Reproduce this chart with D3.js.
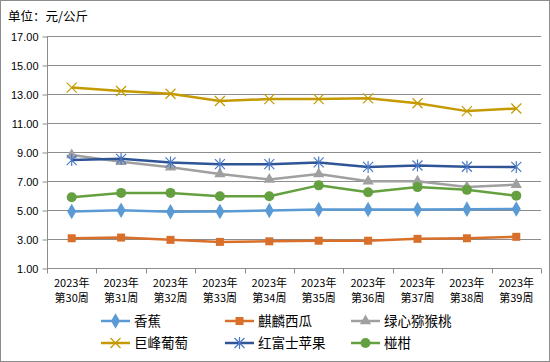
<!DOCTYPE html>
<html>
<head>
<meta charset="utf-8">
<script src="https://cdn.jsdelivr.net/npm/d3@7"></script>
<style>
  body { margin: 0; background: #fff; }
  svg { display: block; font-family: "Noto Sans CJK SC", "DejaVu Sans", sans-serif; }
</style>
</head>
<body>
<svg id="chart" width="550" height="362"></svg>
<script>
// weekly prices, yuan per kg
var weeks = ["第30周", "第31周", "第32周", "第33周", "第34周",
  "第35周", "第36周", "第37周", "第38周", "第39周"];
var yearLabel = "2023年";
var yTicks = [1, 3, 5, 7, 9, 11, 13, 15, 17];

var banana = [4.90, 4.98, 4.88, 4.90, 4.96, 5.03, 5.03, 5.04, 5.06, 5.07];
var watermelon = [3.05, 3.10, 2.94, 2.80, 2.84, 2.88, 2.88, 3.01, 3.05, 3.15];
var kiwi = [8.80, 8.32, 7.95, 7.48, 7.10, 7.48, 6.99, 6.99, 6.58, 6.75];
var grape = [13.44, 13.21, 13.02, 12.52, 12.65, 12.65, 12.70, 12.36, 11.82, 12.00];
var apple = [8.44, 8.53, 8.28, 8.16, 8.16, 8.28, 7.97, 8.07, 7.98, 7.97];
var citrus = [5.88, 6.18, 6.18, 5.95, 5.95, 6.70, 6.23, 6.58, 6.39, 5.99];

var seriesNames = ["香蕉", "麒麟西瓜", "绿心猕猴桃", "巨峰葡萄", "红富士苹果", "椪柑"];
var seriesValues = [banana, watermelon, kiwi, grape, apple, citrus];
var seriesColors = ["#5b9bd5", "#d8702b", "#a0a0a0", "#c49a00", "#2f5597", "#64a03f"];
var seriesMarkers = ["diamond", "square", "triangle", "cross", "asterisk", "circle"];

var svg = d3.select("#chart"),
  margin = { left: 47, right: 9, top: 36, bottom: 94 },
  width = 550 - margin.left - margin.right,
  height = 362 - margin.top - margin.bottom,
  gridColor = "#8c8c8c";

// outer frame
svg.append("rect")
  .attr("x", 0.5).attr("y", 0.5)
  .attr("width", 549).attr("height", 361)
  .attr("fill", "none").attr("stroke", "#8c8c8c");

svg.append("text")
  .attr("x", 8).attr("y", 21)
  .attr("font-size", 12.5)
  .attr("fill", "#000")
  .text("单位：元/公斤");

var g = svg.append("g")
  .attr("transform", "translate(" + margin.left + "," + margin.top + ")");

var x = d3.scaleBand().domain(weeks).range([0, width]);
var y = d3.scaleLinear().domain([1, 17]).range([height, 0]);

// grid lines
g.selectAll(".grid")
  .data(yTicks.slice(1))
  .enter()
  .append("line")
  .attr("class", "grid")
  .attr("x1", 0).attr("x2", width)
  .attr("y1", function (d) { return Math.round(y(d)) + 0.5; })
  .attr("y2", function (d) { return Math.round(y(d)) + 0.5; })
  .attr("stroke", gridColor);

// y axis
var yAxis = g.append("g")
  .attr("transform", "translate(0.5,0.5)")
  .call(d3.axisLeft(y).tickValues(yTicks).tickSize(5).tickPadding(4)
    .tickFormat(d3.format(".2f")));
yAxis.selectAll("line, path").attr("stroke", gridColor);
yAxis.select(".domain").attr("d", "M0," + y(17) + "V" + y(1));
yAxis.selectAll("text").attr("font-size", 11).attr("fill", "#000")
  .attr("font-family", "'Liberation Sans', sans-serif");

// x axis, ticks on band boundaries
var xAxis = g.append("g")
  .attr("transform", "translate(0," + (Math.round(height) + 0.5) + ")");
xAxis.append("line")
  .attr("x1", 0).attr("x2", width)
  .attr("stroke", gridColor);
xAxis.selectAll(".tick")
  .data(d3.range(weeks.length + 1))
  .enter()
  .append("line")
  .attr("x1", function (i) { return Math.round(i * x.bandwidth()) + 0.5; })
  .attr("x2", function (i) { return Math.round(i * x.bandwidth()) + 0.5; })
  .attr("y1", 0).attr("y2", 5)
  .attr("stroke", gridColor);
var xLabels = xAxis.selectAll(".xlabel")
  .data(weeks)
  .enter()
  .append("text")
  .attr("text-anchor", "middle")
  .attr("font-size", 11)
  .attr("fill", "#000")
  .attr("transform", function (d) {
    return "translate(" + (x(d) + x.bandwidth() / 2) + ",0)";
  });
xLabels.append("tspan").attr("x", 0).attr("y", 18).text(yearLabel);
xLabels.append("tspan").attr("x", 0).attr("y", 33).text(function (d) { return d; });

// marker drawing
function drawMarker(sel, type, color) {
  switch (type) {
    case "diamond":
      sel.append("path").attr("d", d3.symbol(d3.symbolDiamond, 70)())
        .attr("fill", color);
      break;
    case "square":
      sel.append("rect").attr("x", -4).attr("y", -4)
        .attr("width", 8).attr("height", 8).attr("fill", color);
      break;
    case "triangle":
      sel.append("path").attr("d", d3.symbol(d3.symbolTriangle, 55)())
        .attr("fill", color);
      break;
    case "circle":
      sel.append("circle").attr("r", 5).attr("fill", color);
      break;
    case "cross":
      sel.append("path").attr("d", "M-5,-5L5,5M-5,5L5,-5")
        .attr("stroke", color).attr("stroke-width", 1.2).attr("fill", "none");
      break;
    case "asterisk":
      sel.append("path").attr("d", "M-5,-5L5,5M-5,5L5,-5M0,-6V6")
        .attr("stroke", "#4a78c8").attr("stroke-width", 1.2).attr("fill", "none");
      break;
  }
}

var line = d3.line()
  .x(function (d, i) { return x(weeks[i]) + x.bandwidth() / 2; })
  .y(function (d) { return y(d); });

seriesValues.forEach(function (vals, k) {
  var s = g.append("g");
  s.append("path")
    .attr("d", line(vals))
    .attr("fill", "none")
    .attr("stroke", seriesColors[k])
    .attr("stroke-width", 2.5)
    .attr("stroke-linejoin", "round");
  s.selectAll(".pt")
    .data(vals)
    .enter()
    .append("g")
    .attr("transform", function (d, i) {
      return "translate(" + (x(weeks[i]) + x.bandwidth() / 2) + "," + y(d) + ")";
    })
    .each(function () { drawMarker(d3.select(this), seriesMarkers[k], seriesColors[k]); });
});

// legend, 3 columns x 2 rows
var legendX = [101, 225, 351],
  legendY = [321, 343];
seriesNames.forEach(function (name, k) {
  var item = svg.append("g")
    .attr("transform", "translate(" + legendX[k % 3] + "," + legendY[Math.floor(k / 3)] + ")");
  item.append("line")
    .attr("x1", 0).attr("x2", 29)
    .attr("stroke", seriesColors[k]).attr("stroke-width", 2.5);
  var m = item.append("g").attr("transform", "translate(14.5,0)");
  drawMarker(m, seriesMarkers[k], seriesColors[k]);
  item.append("text")
    .attr("x", 33).attr("y", 5)
    .attr("font-size", 13.5)
    .attr("fill", "#000")
    .text(name);
});
</script>
</body>
</html>
